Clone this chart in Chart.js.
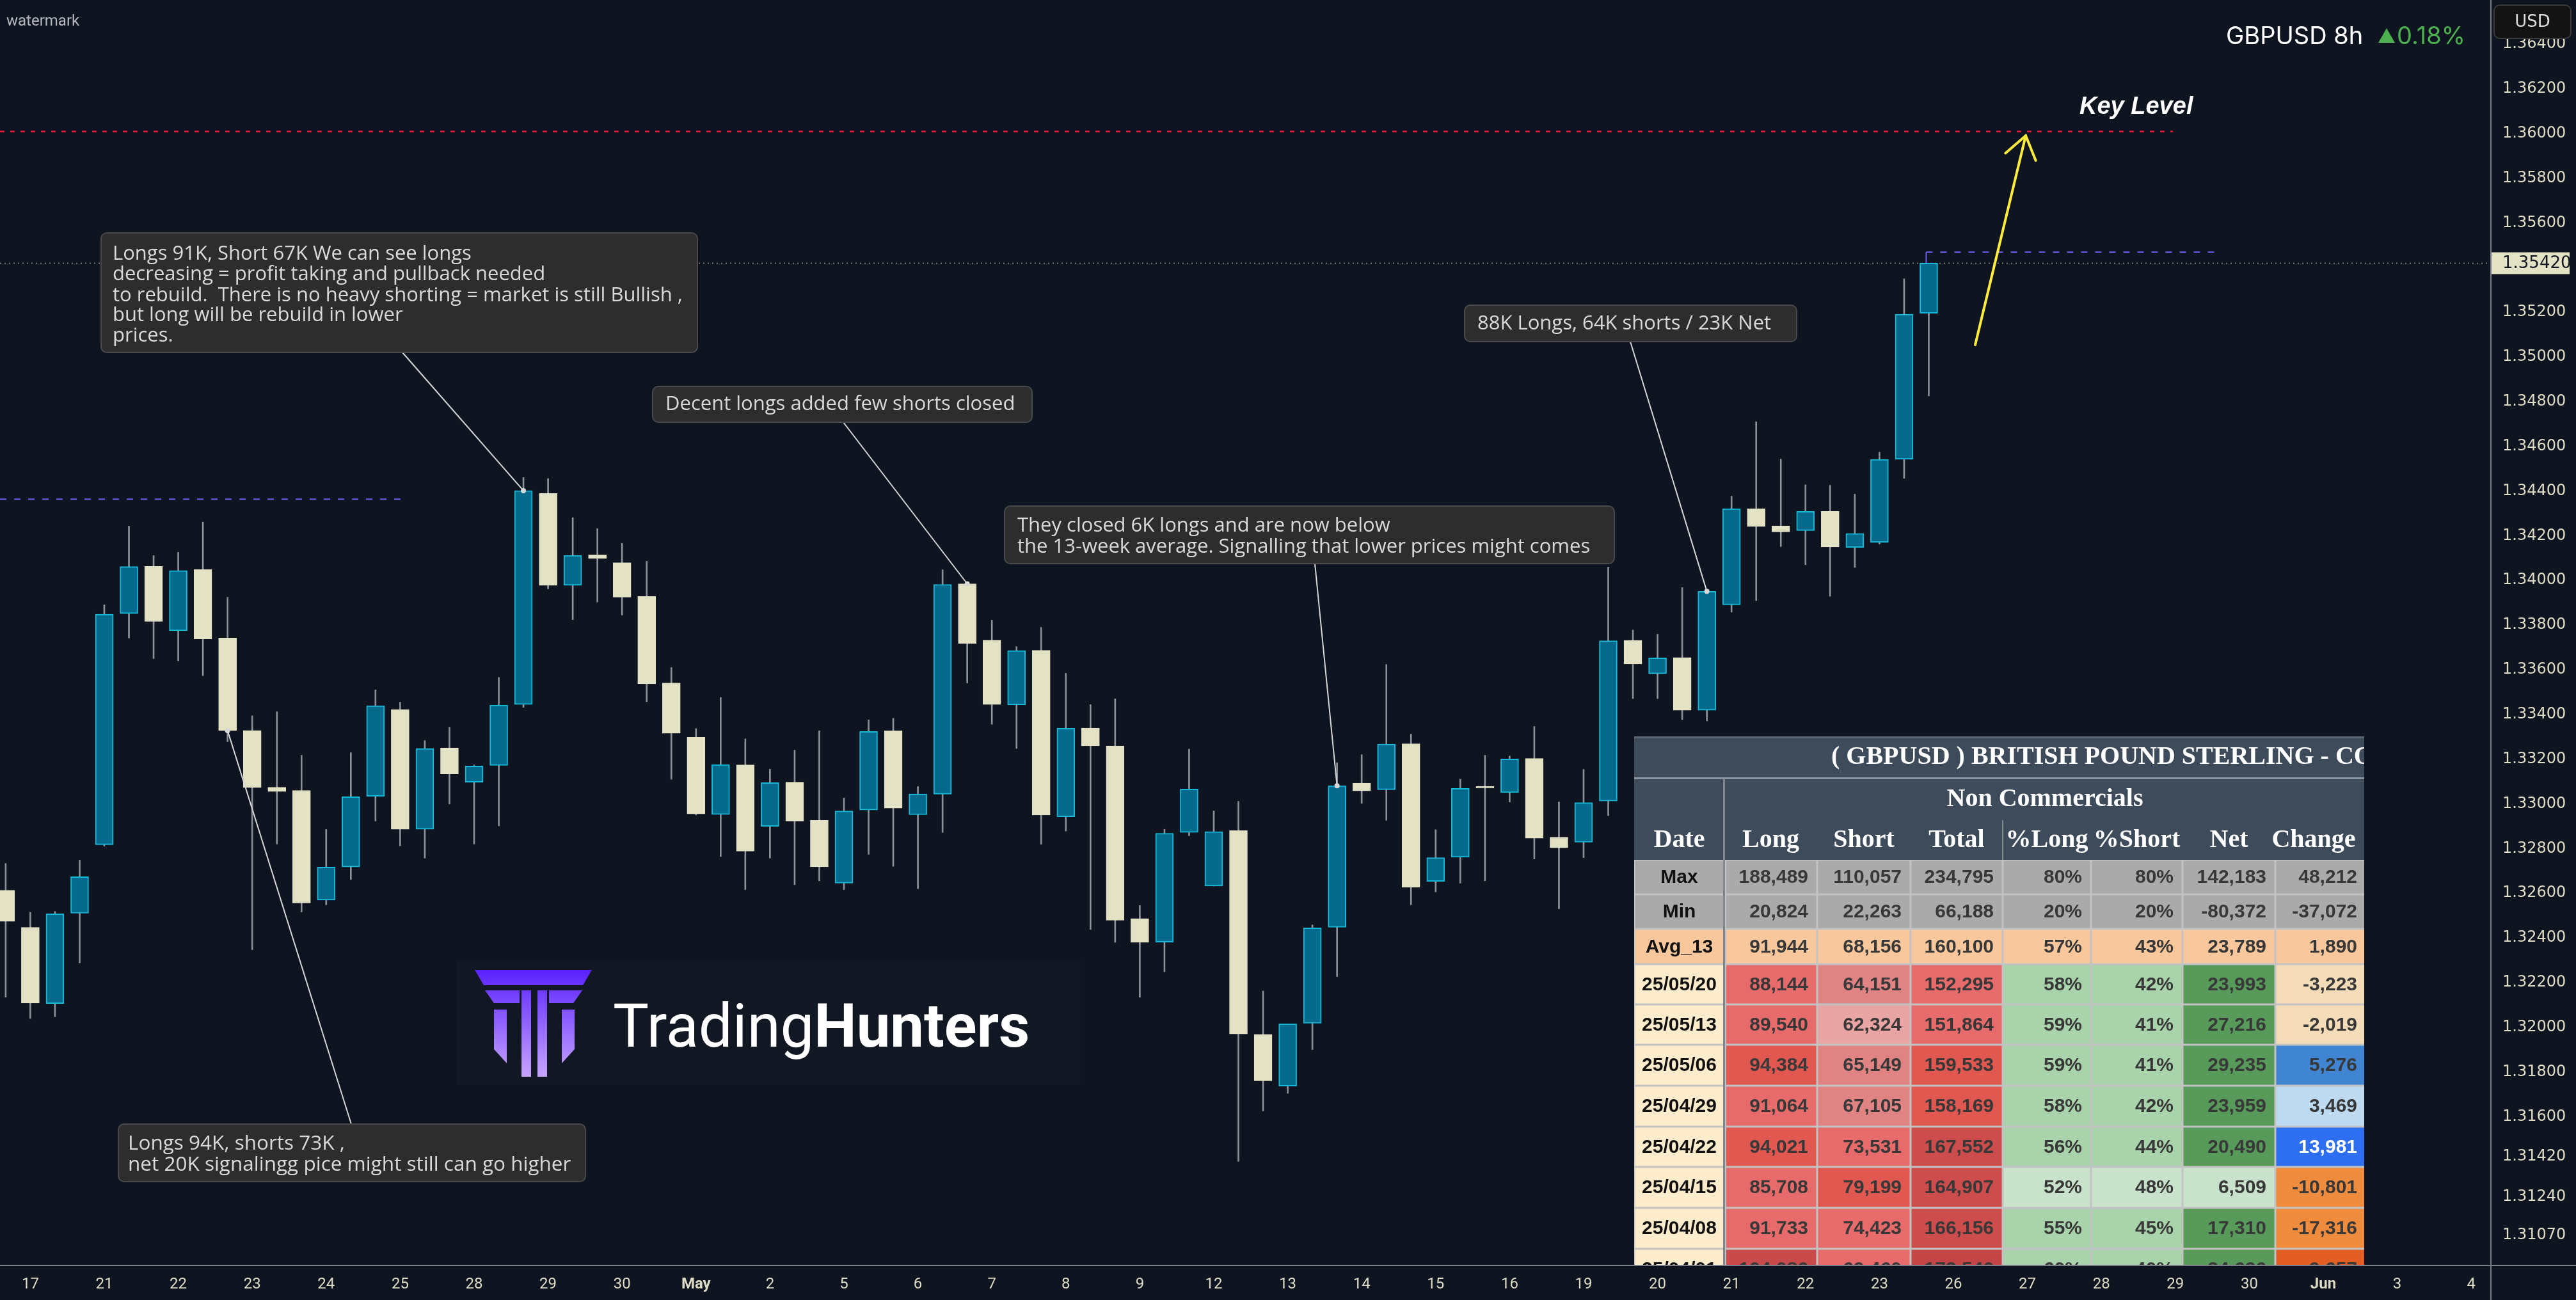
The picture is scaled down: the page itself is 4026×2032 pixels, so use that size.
<!DOCTYPE html>
<html>
<head>
<meta charset="utf-8">
<script src="https://cdn.jsdelivr.net/npm/chart.js@4.4.1/dist/chart.umd.min.js"></script>
<style>
html, body { margin: 0; padding: 0; background: #0e1420; overflow: hidden; }
canvas { display: block; }
</style>
</head>
<body>
<canvas id="chart" width="4026" height="2032"></canvas>
<script>
// GBPUSD 8h candles, index 0 = Apr 16 16:00
const opens  = [1.32613,1.32447,1.32106,1.32510,1.32817,1.33851,1.34063,1.33775,1.34049,1.33742,
                1.33328,1.33074,1.33060,1.32569,1.32717,1.33034,1.33422,1.32886,1.33250,1.33097,
                1.33172,1.33445,1.34389,1.33978,1.34114,1.34079,1.33928,1.33541,1.33298,1.32952,
                1.33174,1.32899,1.33097,1.32926,1.32645,1.32972,1.33327,1.32951,1.33043,1.33985,
                1.33733,1.33443,1.33687,1.32942,1.33339,1.33259,1.32486,1.32381,1.32872,1.32632,
                1.32880,1.31968,1.31736,1.32018,1.32447,1.33093,1.33063,1.33269,1.32653,1.32761,
                1.33071,1.33050,1.33203,1.32851,1.32828,1.33012,1.33732,1.33582,1.33655,1.33419,
                1.33891,1.34321,1.34244,1.34223,1.34309,1.34148,1.34171,1.34542,1.35196];
const highs  = [1.32733,1.32515,1.32518,1.32748,1.33891,1.34243,1.34111,1.34126,1.34261,1.33925,
                1.33394,1.33412,1.33217,1.32885,1.33229,1.33510,1.33455,1.33283,1.33343,1.33174,
                1.33566,1.34461,1.34456,1.34281,1.34232,1.34166,1.34086,1.33610,1.33337,1.33476,
                1.33291,1.33155,1.33240,1.33327,1.33026,1.33376,1.33383,1.33077,1.34048,1.33991,
                1.33822,1.33704,1.33790,1.33584,1.33444,1.33470,1.32545,1.32886,1.33245,1.32968,
                1.33011,1.32162,1.32015,1.32458,1.33184,1.33220,1.33624,1.33312,1.32884,1.33111,
                1.33217,1.33214,1.33346,1.33008,1.33154,1.34060,1.33778,1.33759,1.33968,1.33960,
                1.34377,1.34710,1.34543,1.34428,1.34426,1.34386,1.34574,1.35350,1.35420];
const lows   = [1.32134,1.32039,1.32047,1.32288,1.32810,1.33742,1.33650,1.33640,1.33574,1.33278,
                1.32347,1.32820,1.32516,1.32548,1.32661,1.32923,1.32812,1.32757,1.32999,1.32820,
                1.32901,1.33432,1.33962,1.33824,1.33903,1.33845,1.33457,1.33110,1.32950,1.32764,
                1.32616,1.32757,1.32638,1.32655,1.32616,1.32774,1.32720,1.32620,1.32872,1.33541,
                1.33356,1.33248,1.32819,1.32878,1.32437,1.32380,1.32134,1.32248,1.32857,1.32632,
                1.31400,1.31625,1.31704,1.31900,1.32227,1.33002,1.32926,1.32548,1.32606,1.32645,
                1.32655,1.33008,1.32753,1.32530,1.32759,1.32947,1.33471,1.33471,1.33377,1.33371,
                1.33858,1.33910,1.34152,1.34070,1.33929,1.34058,1.34163,1.34457,1.34826];
const closes = [1.32474,1.32108,1.32508,1.32674,1.33849,1.34062,1.33816,1.34044,1.33738,1.33328,
                1.33073,1.33055,1.32556,1.32717,1.33032,1.33439,1.32886,1.33248,1.33134,1.33169,
                1.33442,1.34402,1.33978,1.34112,1.34098,1.33925,1.33537,1.33316,1.32955,1.33176,
                1.32788,1.33095,1.32923,1.32718,1.32968,1.33324,1.32981,1.33044,1.33982,1.33718,
                1.33445,1.33686,1.32950,1.33338,1.33259,1.32479,1.32380,1.32868,1.33066,1.32876,
                1.31970,1.31760,1.32015,1.32445,1.33081,1.33058,1.33267,1.32626,1.32759,1.33069,
                1.33070,1.33201,1.32846,1.32803,1.33005,1.33730,1.33626,1.33653,1.33419,1.33951,
                1.34321,1.34242,1.34217,1.34309,1.34150,1.34210,1.34542,1.35192,1.35420];

// time axis: first bar of each day and its label
const dayStarts = [1,4,7,10,13,16,19,22,25,28,31,34,37,40,43,46,49,52,55,58,61,64,67,70,73,76,79,82,85,88,91,94,97,100];
const dayLabels = ["17","21","22","23","24","25","28","29","30","May","2","5","6","7","8","9","12","13",
                   "14","15","16","19","20","21","22","23","26","27","28","29","30","Jun","3","4"];

// price axis
const priceTicks  = [1.364,1.362,1.360,1.358,1.356,1.352,1.350,1.348,1.346,1.344,1.342,1.340,1.338,1.336,
                     1.334,1.332,1.330,1.328,1.326,1.324,1.322,1.320,1.318,1.316,1.3142,1.3124,1.3107];
const priceLabels = ["1.36400","1.36200","1.36000","1.35800","1.35600","1.35200","1.35000","1.34800","1.34600",
                     "1.34400","1.34200","1.34000","1.33800","1.33600","1.33400","1.33200","1.33000","1.32800",
                     "1.32600","1.32400","1.32200","1.32000","1.31800","1.31600","1.31420","1.31240","1.31070"];
const lastPrice = 1.35420;
const keyLevel = 1.36010;
const leftLevel = 1.34364;
const rightLevel = 1.35470;

// COT table
const rowNames   = ["Max","Min","Avg_13","25/05/20","25/05/13","25/05/06","25/04/29","25/04/22","25/04/15","25/04/08","25/04/01"];
const colLong    = [188489,20824,91944,88144,89540,94384,91064,94021,85708,91733,104086];
const colShort   = [110057,22263,68156,64151,62324,65149,67105,73531,79199,74423,69460];
const colTotal   = [234795,66188,160100,152295,151864,159533,158169,167552,164907,166156,173546];
const colPctLong = [80,20,57,58,59,59,58,56,52,55,60];
const colPctShort= [80,20,43,42,41,41,42,44,48,45,40];
const colNet     = [142183,-80372,23789,23993,27216,29235,23959,20490,6509,17310,34626];
const colChange  = [48212,-37072,1890,-3223,-2019,5276,3469,13981,-10801,-17316,-9657];

const BG = '#0e1420';
const AXIS_TEXT = '#dedcc5';
const UP_FILL = '#056a8c', UP_LINE = '#16b9d8', DOWN = '#e3e2c5', WICK = '#8c9099';

const cellFill = [
  ['#aaaaaa','#aaaaaa','#aaaaaa','#aaaaaa','#aaaaaa','#aaaaaa','#aaaaaa','#aaaaaa'],
  ['#aaaaaa','#aaaaaa','#aaaaaa','#aaaaaa','#aaaaaa','#aaaaaa','#aaaaaa','#aaaaaa'],
  ['#f8c79b','#f8c79b','#f8c79b','#f8c79b','#f8c79b','#f8c79b','#f8c79b','#f8c79b'],
  ['#fdeccc','#e86b6b','#e08383','#e86b6b','#a9d4ab','#a9d4ab','#579a5a','#f5dcb8'],
  ['#fdeccc','#e86b6b','#e9a4a4','#e86b6b','#a9d4ab','#a9d4ab','#579a5a','#f5dcb8'],
  ['#fdeccc','#e05850','#e08383','#e05850','#a9d4ab','#a9d4ab','#579a5a','#3f85d1'],
  ['#fdeccc','#e86b6b','#e08383','#e05850','#a9d4ab','#a9d4ab','#579a5a','#bddaf0'],
  ['#fdeccc','#e05850','#e86b6b','#cd4c4c','#a9d4ab','#a9d4ab','#579a5a','#2e6ff2'],
  ['#fdeccc','#e86b6b','#e05850','#cd4c4c','#c9e2cb','#c9e2cb','#c9e2cb','#ef8b3d'],
  ['#fdeccc','#e86b6b','#e86b6b','#cd4c4c','#a9d4ab','#a9d4ab','#579a5a','#ef8b3d'],
  ['#fdeccc','#c94a4a','#e86b6b','#c44545','#a9d4ab','#a9d4ab','#579a5a','#e35e22']
];

const notes = [
  { x: 158, y: 364, w: 932, h: 187, tx: 176, ty: [397, 429, 462, 493, 525],
    lines: ["Longs 91K, Short 67K We can see longs", "decreasing = profit taking and pullback needed",
            "to rebuild.  There is no heavy shorting = market is still Bullish ,", "but long will be rebuild in lower", "prices."],
    font: 31, from: [629, 551], bar: 21, price: () => closes[21] },
  { x: 1020, y: 604, w: 593, h: 56, tx: 1040, ty: [632],
    lines: ["Decent longs added few shorts closed"], font: 31, from: [1318, 660], bar: 39, price: () => opens[39] },
  { x: 1570, y: 791, w: 953, h: 90, tx: 1590, ty: [822, 855],
    lines: ["They closed 6K longs and are now below", "the 13-week average. Signalling that lower prices might comes"],
    font: 31, from: [2055, 881], bar: 54, price: () => closes[54] },
  { x: 2289, y: 477, w: 519, h: 57, tx: 2309, ty: [506],
    lines: ["88K Longs, 64K shorts / 23K Net"], font: 31, from: [2548, 534], bar: 69, price: () => closes[69] },
  { x: 185, y: 1757, w: 730, h: 90, tx: 200, ty: [1788, 1821],
    lines: ["Longs 94K, shorts 73K ,", "net 20K signalingg pice might still can go higher"],
    font: 31.5, from: [549, 1757], bar: 9, price: () => closes[9] }
];

function poly(c, pts) {
  c.beginPath();
  c.moveTo(pts[0][0], pts[0][1]);
  for (let i = 1; i < pts.length; i++) c.lineTo(pts[i][0], pts[i][1]);
  c.closePath();
  c.fill();
}

function fmt(n) { return n.toLocaleString('en-US'); }

function drawLogo(c) {
  c.fillStyle = '#121823';
  c.fillRect(714, 1500, 975, 196);
  const g = c.createLinearGradient(0, 1516, 0, 1683);
  g.addColorStop(0, '#5a22ff');
  g.addColorStop(1, '#c7a5ff');
  c.fillStyle = g;
  poly(c, [[742,1516],[925,1516],[911,1540],[756,1540]]);
  poly(c, [[758,1548],[812,1548],[812,1568],[772,1568]]);
  poly(c, [[858,1548],[910,1548],[896,1568],[858,1568]]);
  c.fillRect(815, 1548, 15, 135);
  c.fillRect(840, 1548, 15, 135);
  poly(c, [[772,1578],[792,1578],[792,1662],[772,1640]]);
  poly(c, [[878,1578],[898,1578],[898,1640],[878,1662]]);
  c.fillStyle = '#ffffff';
  c.textBaseline = 'alphabetic';
  c.textAlign = 'left';
  c.font = '400 94px Roboto';
  c.fillText('Trading', 958, 1636);
  const w = c.measureText('Trading').width;
  c.font = '700 94px Roboto';
  c.fillText('Hunters', 958 + w, 1636);
}

function drawTable(c) {
  const L = 2554, R = 3695, TOP = 1151, BOT = 1978;
  const cols = [2554, 2695, 2840, 2986, 3130, 3268, 3411, 3556, 3710];
  const rows = [1344, 1398, 1452, 1507, 1570, 1633, 1697, 1761, 1824, 1888, 1952, 2016];
  c.save();
  c.beginPath(); c.rect(L, TOP, R - L, BOT - TOP); c.clip();
  c.fillStyle = '#3e4b5a'; c.fillRect(L, TOP, 1200, 1344 - TOP);
  c.fillStyle = '#5d6772'; c.fillRect(L, TOP, 1200, 3);
  c.fillStyle = '#8d96a0'; c.fillRect(L, 1215, 1200, 3);
  c.fillStyle = '#7f868e'; c.fillRect(2693, 1217, 3, 127); c.fillRect(3129, 1282, 2, 62);
  c.fillStyle = '#ffffff';
  c.textBaseline = 'middle';
  c.font = 'bold 40px "Liberation Serif"';
  c.textAlign = 'left';
  c.fillText('( GBPUSD ) BRITISH POUND STERLING - COT', 2862, 1184);
  c.textAlign = 'center';
  c.fillText('Non Commercials', 3196, 1250);
  const heads = ['Date','Long','Short','Total','%Long','%Short','Net','Change'];
  for (let i = 0; i < heads.length; i++) c.fillText(heads[i], (cols[i] + Math.min(cols[i + 1], 3700)) / 2 + (i === 7 ? -12 : 0), 1314);
  c.fillStyle = '#c3c3c3'; c.fillRect(L, 1344, 1200, 700);
  c.font = 'bold 30px "Liberation Sans"';
  for (let r = 0; r < rowNames.length; r++) {
    const vals = [rowNames[r], fmt(colLong[r]), fmt(colShort[r]), fmt(colTotal[r]), colPctLong[r] + '%',
                  colPctShort[r] + '%', fmt(colNet[r]), fmt(colChange[r])];
    const y0 = rows[r], y1 = rows[r + 1];
    for (let k = 0; k < 8; k++) {
      c.fillStyle = cellFill[r][k];
      c.fillRect(cols[k] + (k === 1 ? 3 : 1.5), y0 + 1.5, cols[k + 1] - cols[k] - (k === 1 ? 4.5 : 3), y1 - y0 - 3);
      c.fillStyle = k === 0 ? '#111111' : (cellFill[r][k] === '#2e6ff2' ? '#ffffff' : '#383838');
      if (k === 0) { c.textAlign = 'center'; c.fillText(vals[k], (cols[0] + cols[1]) / 2, (y0 + y1) / 2 + 1); }
      else { c.textAlign = 'right'; c.fillText(vals[k], Math.min(cols[k + 1], 3698) - 14, (y0 + y1) / 2 + 1); }
    }
  }
  c.fillStyle = '#7f868e'; c.fillRect(2693, 1344, 3, 700);
  c.restore();
}

const overlay = {
  id: 'overlay',
  beforeDraw(chart) {
    const c = chart.ctx;
    c.save(); c.fillStyle = BG; c.fillRect(0, 0, chart.width, chart.height); c.restore();
  },
  beforeDatasetsDraw(chart) {
    const c = chart.ctx, xs = chart.scales.x, ys = chart.scales.y, a = chart.chartArea;
    c.save();
    // current price dotted line
    c.strokeStyle = '#8c9099'; c.lineWidth = 1.5; c.setLineDash([2, 5]);
    let y = ys.getPixelForValue(lastPrice);
    c.beginPath(); c.moveTo(a.left, y); c.lineTo(a.right, y); c.stroke();
    // key level
    c.strokeStyle = '#dc1830'; c.lineWidth = 2.5; c.setLineDash([7, 9]);
    y = ys.getPixelForValue(keyLevel);
    c.beginPath(); c.moveTo(a.left, y); c.lineTo(3396, y); c.stroke();
    // blue dashed levels
    c.strokeStyle = '#6d5cf2'; c.lineWidth = 2; c.setLineDash([10, 12]);
    y = ys.getPixelForValue(leftLevel);
    c.beginPath(); c.moveTo(a.left, y); c.lineTo(626, y); c.stroke();
    y = ys.getPixelForValue(rightLevel);
    const x0 = xs.getPixelForValue(78) - 4;
    c.beginPath(); c.moveTo(x0, y); c.lineTo(3464, y); c.stroke();
    c.setLineDash([]);
    c.beginPath(); c.moveTo(x0, y); c.lineTo(x0, ys.getPixelForValue(lastPrice)); c.stroke();
    drawLogo(c);
    c.restore();
  },
  afterDatasetsDraw(chart) {
    const c = chart.ctx, xs = chart.scales.x, ys = chart.scales.y;
    c.save();
    // connectors
    notes.forEach(n => {
      const tx = xs.getPixelForValue(n.bar), ty = ys.getPixelForValue(n.price());
      c.strokeStyle = '#d6d6d6'; c.lineWidth = 2;
      c.beginPath(); c.moveTo(n.from[0], n.from[1]); c.lineTo(tx, ty); c.stroke();
      c.fillStyle = '#d6d6d6';
      c.beginPath(); c.arc(tx, ty, 4, 0, Math.PI * 2); c.fill();
    });
    // note boxes
    notes.forEach(n => {
      c.fillStyle = '#2d2d2e'; c.strokeStyle = '#4a4a4c'; c.lineWidth = 2;
      c.beginPath(); c.roundRect(n.x, n.y, n.w, n.h, 9); c.fill(); c.stroke();
      c.fillStyle = '#d9d9d9'; c.font = n.font + 'px "Open Sans"'; c.textAlign = 'left'; c.textBaseline = 'middle';
      n.lines.forEach((t, i) => c.fillText(t, n.tx, n.ty[i]));
    });
    // yellow arrow
    const ax = 3087, ay = 539, bx = 3166, by = 212;
    c.strokeStyle = '#ffeb3b'; c.lineWidth = 4; c.lineCap = 'round';
    c.beginPath(); c.moveTo(ax, ay); c.lineTo(bx, by); c.stroke();
    const ang = Math.atan2(by - ay, bx - ax);
    c.beginPath();
    c.moveTo(bx - 42 * Math.cos(ang - 0.62), by - 42 * Math.sin(ang - 0.62));
    c.lineTo(bx, by);
    c.lineTo(bx - 42 * Math.cos(ang + 0.62), by - 42 * Math.sin(ang + 0.62));
    c.stroke();
    // texts
    c.fillStyle = '#ffffff'; c.textAlign = 'left'; c.textBaseline = 'alphabetic';
    c.font = 'italic bold 38px "Liberation Sans"';
    c.fillText('Key Level', 3250, 178);
    c.font = '38px Inter';
    c.fillText('GBPUSD 8h', 3479, 69);
    c.fillStyle = '#4caf50';
    poly(c, [[3730, 44], [3743, 67], [3717, 67]]);
    c.fillText('0.18%', 3746, 69);
    c.fillStyle = '#b6b8bd'; c.font = '24px Roboto';
    c.fillText('watermark', 10, 40);
    drawTable(c);
    c.restore();
  },
  afterDraw(chart) {
    const c = chart.ctx, a = chart.chartArea, ys = chart.scales.y;
    c.save();
    c.fillStyle = '#7b7e86';
    c.fillRect(a.right - 1, 0, 2, chart.height);
    c.fillRect(0, a.bottom - 1, chart.width, 2);
    // last price label
    const y = ys.getPixelForValue(lastPrice);
    c.fillStyle = '#e3e2c5';
    c.fillRect(a.right + 1, y - 17, 122, 34);
    c.fillStyle = '#131722'; c.font = '26px "DejaVu Sans"'; c.textBaseline = 'middle'; c.textAlign = 'left';
    c.fillText('1.35420', 3911, y + 1);
    // currency button
    c.fillStyle = '#131313'; c.strokeStyle = '#3b3b3b'; c.lineWidth = 2;
    c.beginPath(); c.roundRect(3898, 8, 120, 52, 9); c.fill(); c.stroke();
    c.fillStyle = '#dcdcdc'; c.font = '26px "DejaVu Sans"'; c.textAlign = 'center';
    c.fillText('USD', 3958, 35);
    c.restore();
  }
};

const candleColor = (i) => closes[i] >= opens[i] ? UP_FILL : DOWN;
const candleLine = (i) => closes[i] >= opens[i] ? UP_LINE : DOWN;
const noPad = s => { s.paddingTop = 0; s.paddingBottom = 0; s.paddingLeft = 0; s.paddingRight = 0; };

new Chart(document.getElementById('chart'), {
  type: 'bar',
  data: {
    datasets: [
      {
        label: 'body',
        data: opens.map((o, i) => ({ x: i, y: [o, closes[i]] })),
        backgroundColor: opens.map((o, i) => candleColor(i)),
        borderColor: opens.map((o, i) => candleLine(i)),
        borderWidth: 2,
        borderSkipped: false,
        barThickness: 28,
        minBarLength: 3,
        grouped: false,
        order: 0
      },
      {
        label: 'wick',
        data: lows.map((l, i) => ({ x: i, y: [l, highs[i]] })),
        backgroundColor: WICK,
        barThickness: 2,
        grouped: false,
        order: 1
      }
    ]
  },
  options: {
    responsive: false,
    devicePixelRatio: 1,
    animation: false,
    layout: { padding: 0 },
    plugins: { legend: { display: false }, tooltip: { enabled: false } },
    scales: {
      x: {
        type: 'linear',
        offset: false,
        min: -0.23,
        max: 100.8,
        grid: { display: false, drawTicks: false, offset: false },
        border: { display: false },
        afterBuildTicks: s => { s.ticks = dayStarts.map(v => ({ value: v })); },
        afterFit: s => { s.height = 54; noPad(s); },
        ticks: {
          autoSkip: false, maxRotation: 0, padding: 16, color: AXIS_TEXT,
          font: ctx => ({ family: 'Roboto', size: 24, weight: (ctx.tick && /[A-Za-z]/.test(ctx.tick.label)) ? 'bold' : 'normal' }),
          callback: (v, i) => dayLabels[i]
        }
      },
      y: {
        position: 'right',
        min: 1.309335,
        max: 1.365983,
        grid: { display: false, drawTicks: false },
        border: { display: false },
        afterBuildTicks: s => { s.ticks = priceTicks.map(v => ({ value: v })); },
        afterFit: s => { s.width = 133; noPad(s); },
        ticks: {
          autoSkip: false, padding: 18, color: AXIS_TEXT,
          font: { family: 'DejaVu Sans', size: 24 },
          callback: (v, i) => priceLabels[i]
        }
      }
    }
  },
  plugins: [overlay]
});
</script>
</body>
</html>
